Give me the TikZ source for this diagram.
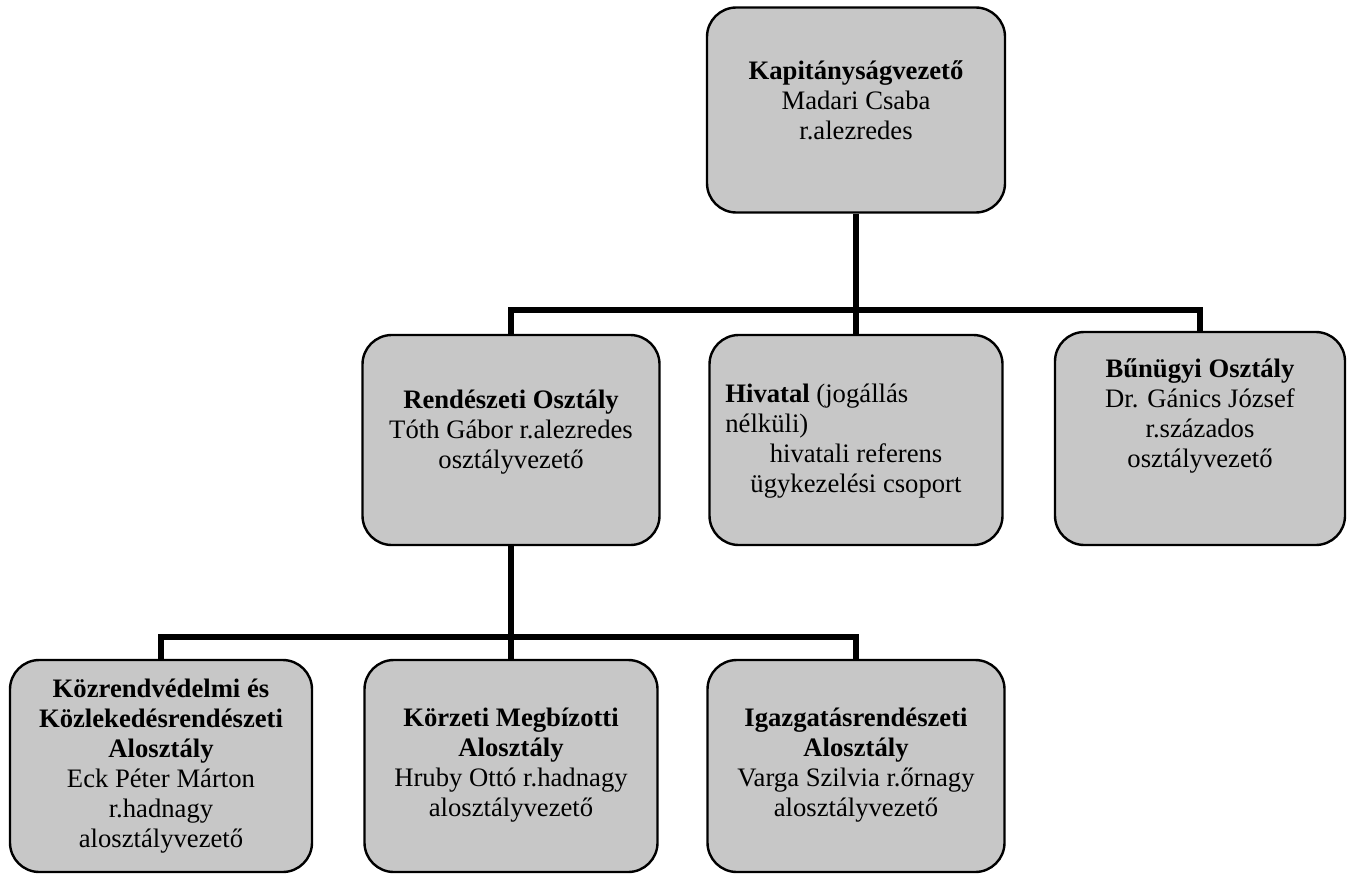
\documentclass[tikz,border=0pt]{standalone}
\usepackage{fontspec}
\setmainfont{Liberation Serif}

\begin{document}
\begin{tikzpicture}[x=0.75pt, y=-0.75pt,
        unit/.style={shape=rectangle, rounded corners=22pt, draw=black, line width=1.8pt, fill=black!22, align=center, inner sep=0pt, font=\fontsize{20}{22.5}\selectfont},
        link/.style={line width=4pt}]
        \useasboundingbox (0,0) rectangle (1351,874);

        \node[unit, minimum width=223.5pt, minimum height=153.75pt] (K) at (856,110) {\textbf{Kapitányságvezető}\\Madari Csaba\\r.alezredes\\[-7pt]\mbox{}};

        \node[unit, minimum width=222.75pt, minimum height=157.5pt] (R) at (511,440) {\textbf{Rendészeti Osztály}\\Tóth Gábor r.alezredes\\osztályvezető\\[-7pt]\mbox{}};
        \node[unit, minimum width=219.75pt, minimum height=157.5pt] (H) at (856,440) {\mbox{}\\[-7pt]\makebox[196pt][l]{\textbf{Hivatal} (jogállás}\\\makebox[196pt][l]{nélküli)}\\hivatali referens\\ügykezelési csoport};
        \node[unit, minimum width=217.5pt, minimum height=159.75pt] (B) at (1200,438.5) {\textbf{Bűnügyi Osztály}\\Dr. Gánics József\\r.százados\\osztályvezető\\[16pt]\mbox{}};

        \node[unit, minimum width=226.5pt, minimum height=159pt] (KK) at (161,766) {\textbf{Közrendvédelmi és}\\\textbf{Közlekedésrendészeti}\\\textbf{Alosztály}\\Eck Péter Márton\\r.hadnagy\\alosztályvezető};
        \node[unit, minimum width=219.75pt, minimum height=159pt] (KM) at (511,766) {\mbox{}\\[-10pt]\textbf{Körzeti Megbízotti}\\\textbf{Alosztály}\\Hruby Ottó r.hadnagy\\alosztályvezető};
        \node[unit, minimum width=222.75pt, minimum height=159pt] (IG) at (856,766) {\mbox{}\\[-10pt]\textbf{Igazgatásrendészeti}\\\textbf{Alosztály}\\Varga Szilvia r.őrnagy\\alosztályvezető};

        \coordinate (bus1) at (856,310);
        \coordinate (bus2) at (511,637);

        \draw[link] (K.south) -- (H.north);
        \draw[link] (R.north) |- (bus1) -| (B.north);
        \draw[link] (R.south) -- (KM.north);
        \draw[link] (KK.north) |- (bus2) -| (IG.north);
\end{tikzpicture}
\end{document}
